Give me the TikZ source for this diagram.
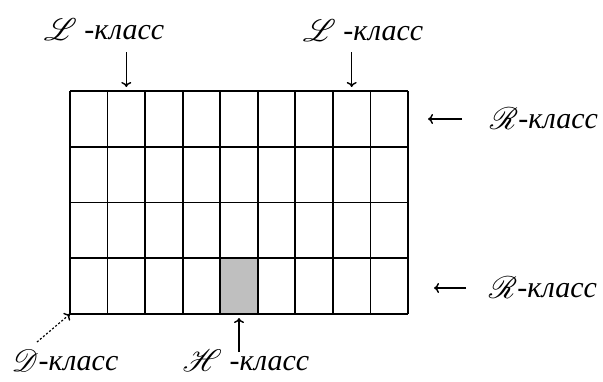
\documentclass[tikz,border=0pt]{standalone}
\usepackage{fontspec}
\usepackage{graphicx}
\usepackage{mathrsfs}
\usetikzlibrary{arrows.meta}
\setmainfont{Liberation Serif}[ItalicFont={Liberation Serif Italic}]
\newcommand{\scr}[1]{\raisebox{-0.05em}{\scalebox{1.25}{$\mathscr{#1}$}}}
\begin{document}
\begin{tikzpicture}[x=1pt,y=-1pt,
  lbl/.style={inner sep=0pt,font=\fontsize{30}{34}\selectfont\itshape},
  arr/.style={-{Computer Modern Rightarrow[length=5pt,width=10pt,line width=1.4pt]},line width=1.2pt},
  gridline/.style={line width=1.8pt}]
\useasboundingbox (0,0) rectangle (603,381);
% shaded H cell
\fill[gray!50] (220.2,259) rectangle (257.8,314);
% grid
\foreach \i in {0,...,9}{
  \draw[gridline] ({70+\i*37.56},91) -- ({70+\i*37.56},314);
}
\foreach \j in {0,...,4}{
  \draw[gridline] (70,{91+\j*55.75}) -- (408,{91+\j*55.75});
}
% named points
\coordinate (L1t) at (126.3,87);
\coordinate (L1s) at (126.3,52);
\coordinate (L2t) at (351.7,87);
\coordinate (L2s) at (351.7,52);
\coordinate (R1t) at (428,119);
\coordinate (R1s) at (462,119);
\coordinate (R2t) at (434,288);
\coordinate (R2s) at (466,288);
\coordinate (Ht) at (239,318);
\coordinate (Hs) at (239,352);
\coordinate (Dt) at (70,314);
\coordinate (Ds) at (37,342);
% labels
\node[lbl] (L1) at (104,30) {\scr{L} -класс};
\node[lbl] (L2) at (363,31) {\scr{L} -класс};
\node[lbl] (R1) at (544,119) {\scr{R}-класс};
\node[lbl] (R2) at (543,288) {\scr{R}-класс};
\node[lbl] (H) at (246,361) {\scr{H} -класс};
\node[lbl] (D) at (65,361) {\scr{D}-класс};
% arrows
\draw[arr] (L1s) -- (L1t);
\draw[arr] (L2s) -- (L2t);
\draw[arr] (R1s) -- (R1t);
\draw[arr] (R2s) -- (R2t);
\draw[arr] (Hs) -- (Ht);
\draw[arr,dash pattern=on 2pt off 2pt] (Ds) -- (Dt);
\end{tikzpicture}
\end{document}
